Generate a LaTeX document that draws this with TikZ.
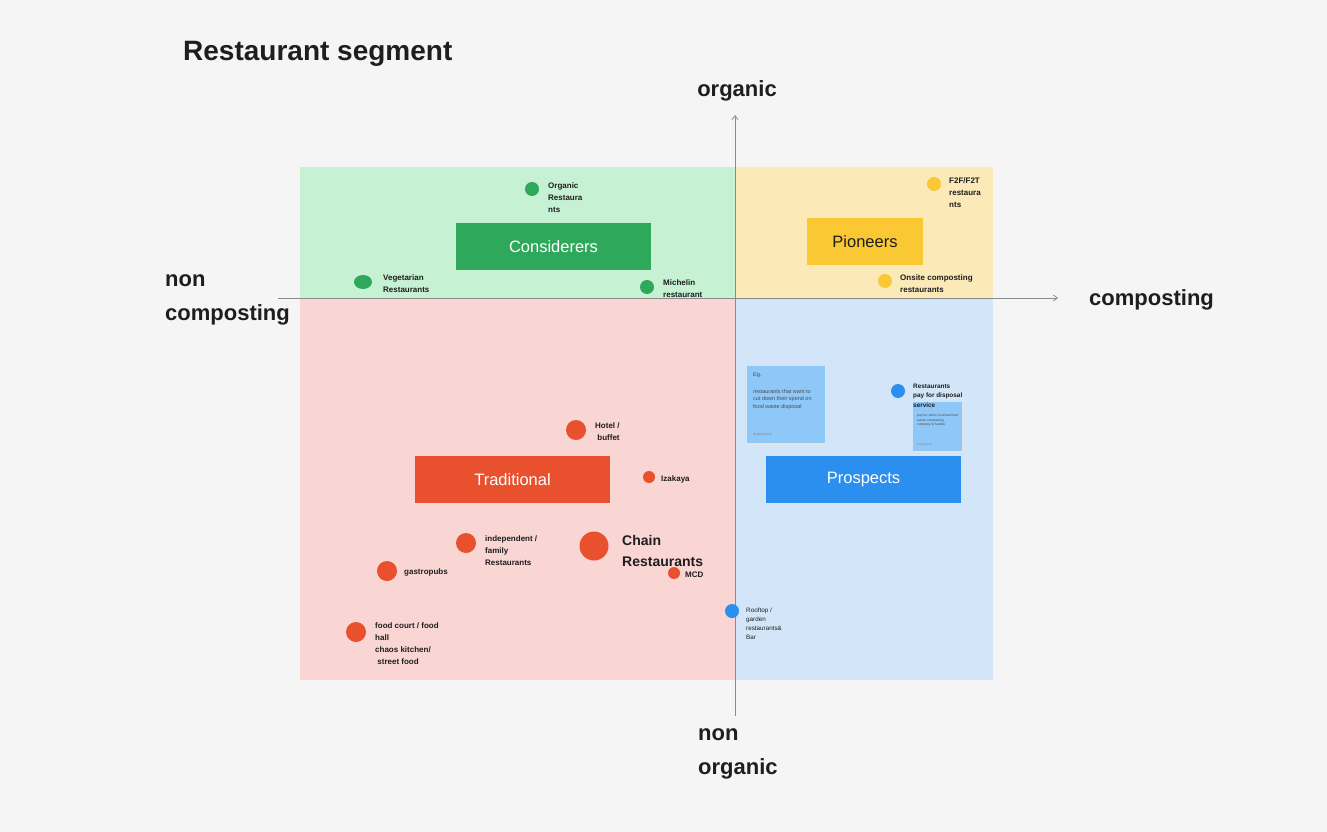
\documentclass[tikz,border=0pt]{standalone}
\usepackage{fontspec}
\setmainfont{Liberation Sans}
\usetikzlibrary{arrows.meta,shapes.geometric}
\definecolor{bg}{HTML}{F5F5F5}
\definecolor{greenreg}{HTML}{C6F1D3}
\definecolor{yellowreg}{HTML}{FBE9B8}
\definecolor{redreg}{HTML}{F9D5D3}
\definecolor{bluereg}{HTML}{D3E6F9}
\definecolor{gbox}{HTML}{2EA85A}
\definecolor{ybox}{HTML}{F9C833}
\definecolor{rbox}{HTML}{E8502E}
\definecolor{bbox}{HTML}{2B8FF0}
\definecolor{sticky}{HTML}{8EC8F8}
\definecolor{ink}{HTML}{1E1E1E}
\definecolor{axisgray}{HTML}{8A8A8A}
\tikzset{
  lbl/.style={font=\fontsize{8}{12}\selectfont\bfseries, text=ink, align=left, anchor=west, inner sep=0pt},
  smalllbl/.style={font=\fontsize{6.3}{9}\selectfont, text=ink, align=left, anchor=west, inner sep=0pt},
  axislbl/.style={font=\fontsize{22}{34}\selectfont\bfseries, text=ink, align=left, inner sep=0pt},
  segbox/.style={minimum width=195pt, minimum height=47pt, inner sep=0pt, font=\fontsize{16.5}{20}\selectfont, text=white},
  dot/.style={circle, inner sep=0pt, minimum size=#1},
  axisline/.style={draw=axisgray, line width=0.8pt, -{Straight Barb[length=4pt,width=6pt]}},
  notetxt/.style={font=\fontsize{5.5}{7.5}\selectfont, text=ink!80, align=left, anchor=north west, inner sep=0pt},
}
\begin{document}
\begin{tikzpicture}[x=1pt,y=-1pt]
\useasboundingbox (0,0) rectangle (1327,832);
\fill[bg] (0,0) rectangle (1327,832);

% title
\node[font=\fontsize{28}{34}\selectfont\bfseries, text=ink, anchor=west, inner sep=0pt] (title) at (183,54) {Restaurant segment};

% quadrants
\fill[greenreg] (300,167) rectangle (735,298);
\fill[yellowreg] (735,167) rectangle (993,298);
\fill[redreg] (300,298) rectangle (735,680);
\fill[bluereg] (735,298) rectangle (993,680);

% axes
\coordinate (vbot) at (735,716);
\coordinate (vtop) at (735,115);
\coordinate (hleft) at (278,298);
\coordinate (hright) at (1058,298);
\draw[axisline] (vbot) -- (vtop);
\draw[axisline] (hleft) -- (hright);

% axis labels
\node[axislbl, anchor=center] (organic) at (737,91) {organic};
\node[axislbl, anchor=west] (nonorganic) at (698,754) {non\\organic};
\node[axislbl, anchor=west] (noncomp) at (165,300) {non\\composting};
\node[axislbl, anchor=west] (comp) at (1089,300) {composting};

% segment boxes
\node[segbox, fill=gbox] (considerers) at (553.5,246.5) {Considerers};
\node[segbox, fill=ybox, minimum width=116pt, text=ink] (pioneers) at (865,241.5) {Pioneers};
\node[segbox, fill=rbox] (traditional) at (512.5,479.5) {Traditional};
\node[segbox, fill=bbox] (prospects) at (863.5,479.5) {Prospects};

% green dots
\node[dot=14pt, fill=gbox] (d-org) at (532,189) {};
\node[lbl] (l-org) at (548,198) {Organic\\Restaura\\nts};
\node[ellipse, fill=gbox, minimum width=18pt, minimum height=14pt, inner sep=0pt] (d-veg) at (363,282) {};
\node[lbl] (l-veg) at (383,284) {Vegetarian\\Restaurants};
\node[dot=14pt, fill=gbox] (d-mic) at (647,287) {};
\node[lbl] (l-mic) at (663,289) {Michelin\\restaurant};

% yellow dots
\node[dot=14pt, fill=ybox] (d-f2f) at (934,184) {};
\node[lbl] (l-f2f) at (949,193) {F2F/F2T\\restaura\\nts};
\node[dot=14pt, fill=ybox] (d-ons) at (885,281) {};
\node[lbl] (l-ons) at (900,284) {Onsite composting\\restaurants};

% blue area
\fill[black!10] (748,367.5) rectangle (826,444.5);
\fill[sticky] (747,366) rectangle (825,443);
\node[notetxt] (n-eg) at (753,373) {Eg.};
\node[notetxt] (n-big) at (753,389) {restaurants that want to\\cut down their spend on\\food waste disposal};
\node[notetxt, font=\fontsize{3.5}{4}\selectfont, text=ink!55] (n-bigsig) at (753,433) {Anonymous};

\fill[black!10] (914,403.5) rectangle (963,452.5);
\fill[sticky] (913,402) rectangle (962,451);
\node[notetxt, font=\fontsize{3.3}{4.6}\selectfont] (n-small) at (917,414) {pay for, when, licensed food\\waste composting\\company to handle};
\node[notetxt, font=\fontsize{2.8}{3.5}\selectfont, text=ink!55] (n-smallsig) at (917,443) {Anonymous};

\node[dot=14pt, fill=bbox] (d-pay) at (898,391) {};
\node[lbl, font=\fontsize{6.4}{9.5}\selectfont\bfseries] (l-pay) at (913,395.5) {Restaurants\\pay for disposal\\service};

\node[dot=14pt, fill=bbox] (d-roof) at (732,611) {};
\node[smalllbl] (l-roof) at (746,623.5) {Rooftop /\\garden\\restaurants\&\\Bar};

% red dots
\node[dot=20pt, fill=rbox] (d-hotel) at (576,430) {};
\node[lbl] (l-hotel) at (595,432) {Hotel /\\\ buffet};
\node[dot=12pt, fill=rbox] (d-iza) at (649,477) {};
\node[lbl] (l-iza) at (661,479) {Izakaya};
\node[dot=20pt, fill=rbox] (d-ind) at (466,543) {};
\node[lbl] (l-ind) at (485,551) {independent /\\family\\Restaurants};
\node[dot=29pt, fill=rbox] (d-chain) at (594,546) {};
\node[lbl, font=\fontsize{14}{21}\selectfont\bfseries] (l-chain) at (622,551) {Chain\\Restaurants};
\node[dot=12pt, fill=rbox] (d-mcd) at (674,573) {};
\node[lbl] (l-mcd) at (685,575) {MCD};
\node[dot=20pt, fill=rbox] (d-gas) at (387,571) {};
\node[lbl] (l-gas) at (404,572) {gastropubs};
\node[dot=20pt, fill=rbox] (d-food) at (356,632) {};
\node[lbl] (l-food) at (375,644) {food court / food\\hall\\chaos kitchen/\\\ street food};
\end{tikzpicture}
\end{document}
